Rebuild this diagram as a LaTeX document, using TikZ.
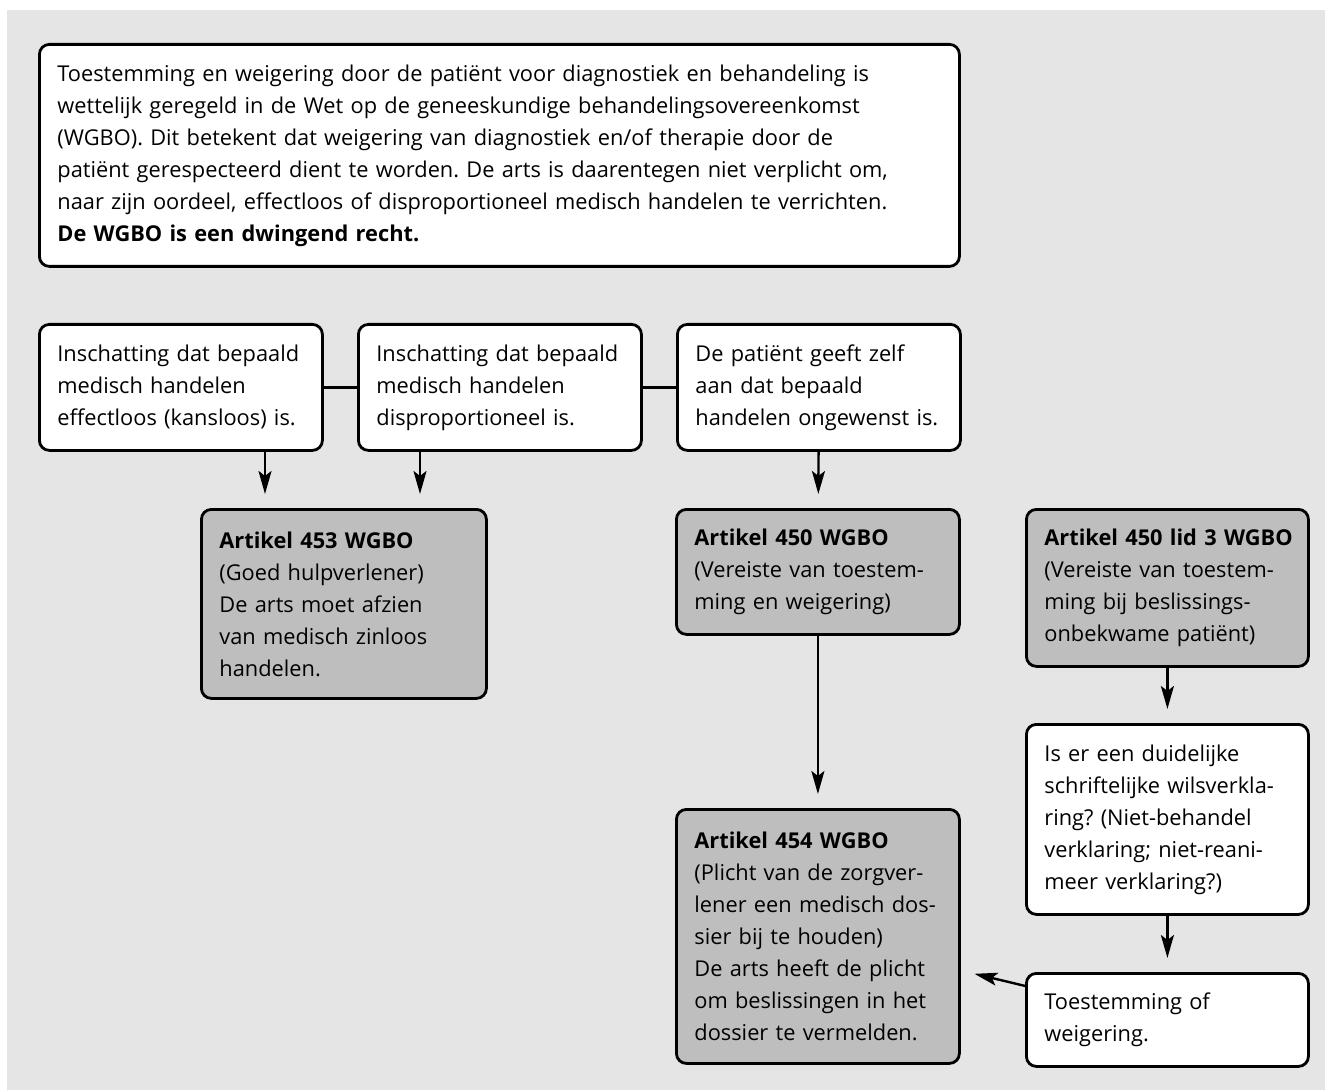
\documentclass[tikz,border=0pt]{standalone}
\usepackage{fontspec}
\setmainfont{Open Sans}
\usetikzlibrary{arrows.meta}
\frenchspacing

\definecolor{bggray}{HTML}{E5E5E5}
\definecolor{boxgray}{HTML}{BEBEBE}

\tikzset{
    whitebox/.style={draw, line width=1.4pt, rounded corners=5pt, fill=white,
        align=left, anchor=north west, inner xsep=9pt, inner ysep=0pt,
        font=\fontsize{10.9}{16}\selectfont},
    graybox/.style={whitebox, fill=boxgray},
    arrowline/.style={line width=1.2pt, -{Stealth[length=11.5pt,width=6.5pt,inset=2.5pt]}, shorten >=7pt}
}

\begin{document}
\begin{tikzpicture}[x=0.5pt, y=-0.5pt]

    % Fix the page to the size of the reference
    \useasboundingbox (0,0) rectangle (1325,1090);

    % Light gray background
    \fill[bggray] (7,10) rectangle (1325,1090);

    % Introduction at the top
    \node[whitebox, text width=442pt, minimum height=111pt] (intro) at (38,43)
        {Toestemming en weigering door de patiënt voor diagnostiek en behandeling is\\
         wettelijk geregeld in de Wet op de geneeskundige behandelingsovereenkomst\\
         (WGBO). Dit betekent dat weigering van diagnostiek en/of therapie door de\\
         patiënt gerespecteerd dient te worden. De arts is daarentegen niet verplicht om,\\
         naar zijn oordeel, effectloos of disproportioneel medisch handelen te verrichten.\\
         \textbf{De WGBO is een dwingend recht.}};

    % The three situations
    \node[whitebox, text width=123.5pt, minimum height=63pt] (kansloos) at (38,323)
        {Inschatting dat bepaald\\ medisch handelen\\ effectloos (kansloos) is.};
    \node[whitebox, text width=123.5pt, minimum height=63pt] (dispro) at (357,323)
        {Inschatting dat bepaald\\ medisch handelen\\ disproportioneel is.};
    \node[whitebox, text width=123.5pt, minimum height=63pt] (ongewenst) at (676,323)
        {De patiënt geeft zelf\\ aan dat bepaald\\ handelen ongewenst is.};

    % Articles of the WGBO
    \node[graybox, text width=124.5pt, minimum height=94.5pt] (art453) at (200,508)
        {\textbf{Artikel 453 WGBO}\\ (Goed hulpverlener)\\ De arts moet afzien\\ van medisch zinloos\\ handelen.};
    \node[graybox, text width=123.5pt, minimum height=62.5pt] (art450) at (675,508)
        {\textbf{Artikel 450 WGBO}\\ (Vereiste van toestem-\\ ming en weigering)};
    \node[graybox, text width=123pt, minimum height=78.5pt] (art450lid) at (1025,508)
        {\mbox{\textbf{Artikel 450 lid 3 WGBO}}\\ (Vereiste van toestem-\\ ming bij beslissings-\\ onbekwame patiënt)};
    \node[graybox, text width=123.5pt, minimum height=127pt] (art454) at (675,808)
        {\textbf{Artikel 454 WGBO}\\ (Plicht van de zorgver-\\ lener een medisch dos-\\ sier bij te houden)\\
         De arts heeft de plicht\\ om beslissingen in het\\ dossier te vermelden.};

    % Living will and the outcome
    \node[whitebox, text width=123pt, minimum height=95pt] (wilsverkl) at (1025,723)
        {Is er een duidelijke\\ schriftelijke wilsverkla-\\ ring? (Niet-behandel\\ verklaring; niet-reani-\\ meer verklaring?)};
    \node[whitebox, text width=123pt, minimum height=46.5pt] (besluit) at (1025,972)
        {Toestemming of\\ weigering.};

    % Lines between the situations
    \draw[line width=1.2pt] (kansloos) -- (dispro);
    \draw[line width=1.2pt] (dispro) -- (ongewenst);

    % Arrows
    \draw[arrowline] (kansloos.south -| 265,0) -- (art453.north -| 265,0);
    \draw[arrowline] (dispro.south -| 420,0) -- (art453.north -| 420,0);
    \draw[arrowline] (ongewenst) -- (art450);
    \draw[arrowline] (art450) -- (art454);
    \draw[arrowline] (art450lid) -- (wilsverkl);
    \draw[arrowline] (wilsverkl) -- (besluit);
    \draw[arrowline] (besluit) -- (art454);

\end{tikzpicture}
\end{document}
